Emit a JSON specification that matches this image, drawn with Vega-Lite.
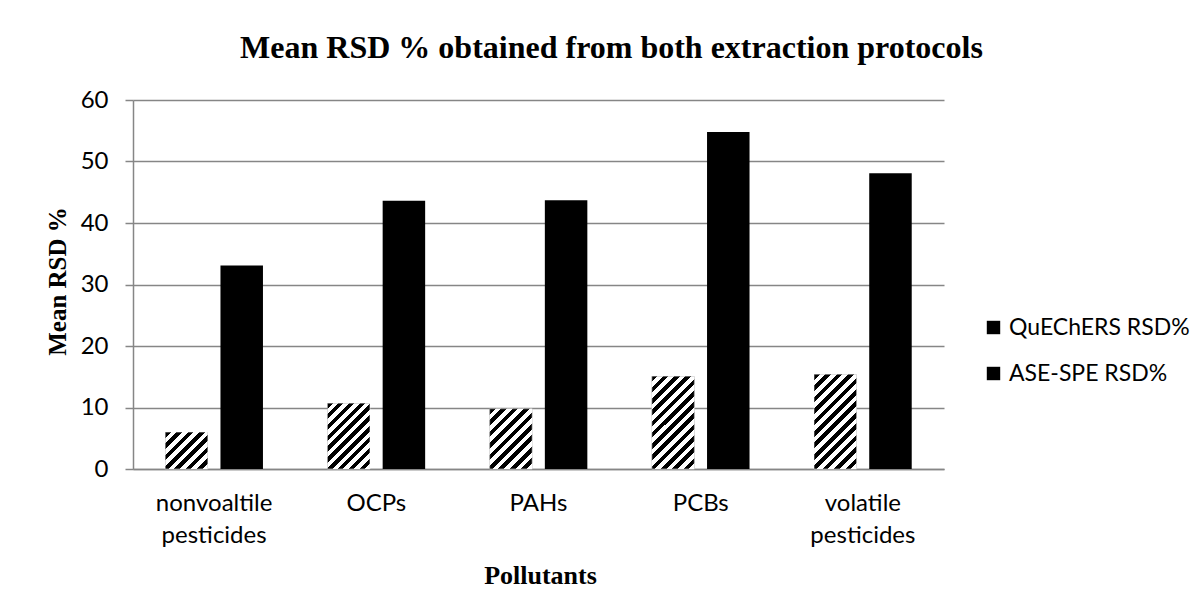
{
  "$schema": "https://vega.github.io/schema/vega-lite/v6.json",
  "autosize": {"type": "none"},
  "padding": {"left": 133, "top": 100, "right": 258, "bottom": 146},
  "width": 811,
  "height": 369,
  "background": "#ffffff",
  "title": {
    "text": "Mean RSD % obtained from both extraction protocols",
    "font": "Liberation Serif",
    "fontSize": 32,
    "fontWeight": "bold",
    "color": "#000000",
    "anchor": "middle",
    "frame": "group",
    "dx": 73,
    "offset": -2,
    "baseline": "alphabetic"
  },
  "data": {
    "values": [
      {"Pollutants": "nonvoaltile pesticides", "Series": "QuEChERS RSD%", "value": 6.0},
      {"Pollutants": "nonvoaltile pesticides", "Series": "ASE-SPE RSD%", "value": 33.1},
      {"Pollutants": "OCPs", "Series": "QuEChERS RSD%", "value": 10.7},
      {"Pollutants": "OCPs", "Series": "ASE-SPE RSD%", "value": 43.6},
      {"Pollutants": "PAHs", "Series": "QuEChERS RSD%", "value": 9.8},
      {"Pollutants": "PAHs", "Series": "ASE-SPE RSD%", "value": 43.7},
      {"Pollutants": "PCBs", "Series": "QuEChERS RSD%", "value": 15.1},
      {"Pollutants": "PCBs", "Series": "ASE-SPE RSD%", "value": 54.8},
      {"Pollutants": "volatile pesticides", "Series": "QuEChERS RSD%", "value": 15.4},
      {"Pollutants": "volatile pesticides", "Series": "ASE-SPE RSD%", "value": 48.1}
    ]
  },
  "encoding": {
    "x": {
      "field": "Pollutants",
      "type": "nominal",
      "sort": ["nonvoaltile pesticides", "OCPs", "PAHs", "PCBs", "volatile pesticides"],
      "scale": {"paddingInner": 0.3977, "paddingOuter": 0.199},
      "axis": {
        "title": "Pollutants",
        "labelAngle": 0,
        "labelExpr": "split(datum.label, ' ')",
        "labelFont": "Lato",
        "labelFontSize": 24,
        "labelLineHeight": 32,
        "labelColor": "#000000",
        "labelPadding": 22,
        "labelBaseline": "top",
        "labelLimit": 300,
        "ticks": false,
        "tickSize": 0,
        "domainColor": "#868686",
        "domainWidth": 1.5,
        "grid": false,
        "titleFont": "Liberation Serif",
        "titleFontSize": 26,
        "titleFontWeight": "bold",
        "titleColor": "#000000",
        "titleX": 407,
        "titleY": 106,
        "titleAlign": "center",
        "titleBaseline": "middle"
      }
    },
    "xOffset": {
      "field": "Series",
      "type": "nominal",
      "sort": ["QuEChERS RSD%", "ASE-SPE RSD%"],
      "scale": {"domain": ["QuEChERS RSD%", "ASE-SPE RSD%"], "paddingInner": 0.23, "paddingOuter": 0}
    },
    "y": {
      "field": "value",
      "type": "quantitative",
      "scale": {"domain": [0, 60], "nice": false},
      "axis": {
        "title": "Mean RSD %",
        "values": [0, 10, 20, 30, 40, 50, 60],
        "grid": true,
        "gridColor": "#868686",
        "gridWidth": 1.5,
        "domainColor": "#868686",
        "domainWidth": 1.5,
        "tickColor": "#868686",
        "tickSize": 8,
        "tickWidth": 1.5,
        "labelFont": "Lato",
        "labelFontSize": 24,
        "labelColor": "#000000",
        "labelPadding": 17,
        "titleFont": "Liberation Serif",
        "titleFontSize": 25,
        "titleFontWeight": "bold",
        "titleColor": "#000000",
        "titleX": -76,
        "titleY": 181,
        "titleAngle": -90,
        "titleAlign": "center",
        "titleBaseline": "middle"
      }
    }
  },
  "layer": [
    {
      "mark": {"type": "bar"},
      "encoding": {
        "color": {
          "field": "Series",
          "type": "nominal",
          "scale": {"domain": ["QuEChERS RSD%", "ASE-SPE RSD%"], "range": ["#000000", "#000000"]},
          "legend": {
            "orient": "none",
            "legendX": 849,
            "legendY": 216,
            "padding": 0,
            "title": null,
            "symbolType": "square",
            "symbolSize": 180,
            "symbolStrokeWidth": 0,
            "labelFont": "Lato",
            "labelFontSize": 23,
            "labelColor": "#000000",
            "labelOffset": 4,
            "labelLimit": 300,
            "rowPadding": 22
          }
        }
      }
    },
    {
      "transform": [{"filter": "datum.Series === 'QuEChERS RSD%'"}],
      "mark": {"type": "bar", "stroke": "#ffffff", "strokeWidth": 0.5},
      "encoding": {
        "fill": {
          "condition": [
            {
              "test": "datum.Pollutants === 'nonvoaltile pesticides'",
              "value": {"gradient": "linear", "x1": 0, "y1": 0, "x2": 1.065, "y2": 0.925, "stops": [
                {"offset": 0, "color": "#000"}, {"offset": 0.0714, "color": "#000"}, {"offset": 0.0714, "color": "#fff"}, {"offset": 0.1429, "color": "#fff"},
                {"offset": 0.1429, "color": "#000"}, {"offset": 0.2143, "color": "#000"}, {"offset": 0.2143, "color": "#fff"}, {"offset": 0.2857, "color": "#fff"},
                {"offset": 0.2857, "color": "#000"}, {"offset": 0.3571, "color": "#000"}, {"offset": 0.3571, "color": "#fff"}, {"offset": 0.4286, "color": "#fff"},
                {"offset": 0.4286, "color": "#000"}, {"offset": 0.5, "color": "#000"}, {"offset": 0.5, "color": "#fff"}, {"offset": 0.5714, "color": "#fff"},
                {"offset": 0.5714, "color": "#000"}, {"offset": 0.6429, "color": "#000"}, {"offset": 0.6429, "color": "#fff"}, {"offset": 0.7143, "color": "#fff"},
                {"offset": 0.7143, "color": "#000"}, {"offset": 0.7857, "color": "#000"}, {"offset": 0.7857, "color": "#fff"}, {"offset": 0.8571, "color": "#fff"},
                {"offset": 0.8571, "color": "#000"}, {"offset": 0.9286, "color": "#000"}, {"offset": 0.9286, "color": "#fff"}, {"offset": 1, "color": "#fff"}
              ]}
            },
            {
              "test": "datum.Pollutants === 'OCPs'",
              "value": {"gradient": "linear", "x1": 0, "y1": 0, "x2": 0.75, "y2": 1.161, "stops": [
                {"offset": 0, "color": "#000"}, {"offset": 0.05, "color": "#000"}, {"offset": 0.05, "color": "#fff"}, {"offset": 0.1, "color": "#fff"},
                {"offset": 0.1, "color": "#000"}, {"offset": 0.15, "color": "#000"}, {"offset": 0.15, "color": "#fff"}, {"offset": 0.2, "color": "#fff"},
                {"offset": 0.2, "color": "#000"}, {"offset": 0.25, "color": "#000"}, {"offset": 0.25, "color": "#fff"}, {"offset": 0.3, "color": "#fff"},
                {"offset": 0.3, "color": "#000"}, {"offset": 0.35, "color": "#000"}, {"offset": 0.35, "color": "#fff"}, {"offset": 0.4, "color": "#fff"},
                {"offset": 0.4, "color": "#000"}, {"offset": 0.45, "color": "#000"}, {"offset": 0.45, "color": "#fff"}, {"offset": 0.5, "color": "#fff"},
                {"offset": 0.5, "color": "#000"}, {"offset": 0.55, "color": "#000"}, {"offset": 0.55, "color": "#fff"}, {"offset": 0.6, "color": "#fff"},
                {"offset": 0.6, "color": "#000"}, {"offset": 0.65, "color": "#000"}, {"offset": 0.65, "color": "#fff"}, {"offset": 0.7, "color": "#fff"},
                {"offset": 0.7, "color": "#000"}, {"offset": 0.75, "color": "#000"}, {"offset": 0.75, "color": "#fff"}, {"offset": 0.8, "color": "#fff"},
                {"offset": 0.8, "color": "#000"}, {"offset": 0.85, "color": "#000"}, {"offset": 0.85, "color": "#fff"}, {"offset": 0.9, "color": "#fff"},
                {"offset": 0.9, "color": "#000"}, {"offset": 0.95, "color": "#000"}, {"offset": 0.95, "color": "#fff"}, {"offset": 1, "color": "#fff"}
              ]}
            },
            {
              "test": "datum.Pollutants === 'PAHs'",
              "value": {"gradient": "linear", "x1": 0, "y1": 0, "x2": 0.803, "y2": 1.139, "stops": [
                {"offset": 0, "color": "#000"}, {"offset": 0.0556, "color": "#000"}, {"offset": 0.0556, "color": "#fff"}, {"offset": 0.1111, "color": "#fff"},
                {"offset": 0.1111, "color": "#000"}, {"offset": 0.1667, "color": "#000"}, {"offset": 0.1667, "color": "#fff"}, {"offset": 0.2222, "color": "#fff"},
                {"offset": 0.2222, "color": "#000"}, {"offset": 0.2778, "color": "#000"}, {"offset": 0.2778, "color": "#fff"}, {"offset": 0.3333, "color": "#fff"},
                {"offset": 0.3333, "color": "#000"}, {"offset": 0.3889, "color": "#000"}, {"offset": 0.3889, "color": "#fff"}, {"offset": 0.4444, "color": "#fff"},
                {"offset": 0.4444, "color": "#000"}, {"offset": 0.5, "color": "#000"}, {"offset": 0.5, "color": "#fff"}, {"offset": 0.5556, "color": "#fff"},
                {"offset": 0.5556, "color": "#000"}, {"offset": 0.6111, "color": "#000"}, {"offset": 0.6111, "color": "#fff"}, {"offset": 0.6667, "color": "#fff"},
                {"offset": 0.6667, "color": "#000"}, {"offset": 0.7222, "color": "#000"}, {"offset": 0.7222, "color": "#fff"}, {"offset": 0.7778, "color": "#fff"},
                {"offset": 0.7778, "color": "#000"}, {"offset": 0.8333, "color": "#000"}, {"offset": 0.8333, "color": "#fff"}, {"offset": 0.8889, "color": "#fff"},
                {"offset": 0.8889, "color": "#000"}, {"offset": 0.9444, "color": "#000"}, {"offset": 0.9444, "color": "#fff"}, {"offset": 1, "color": "#fff"}
              ]}
            },
            {
              "test": "datum.Pollutants === 'PCBs'",
              "value": {"gradient": "linear", "x1": 0, "y1": 0, "x2": 0.551, "y2": 1.205, "stops": [
                {"offset": 0, "color": "#000"}, {"offset": 0.0417, "color": "#000"}, {"offset": 0.0417, "color": "#fff"}, {"offset": 0.0833, "color": "#fff"},
                {"offset": 0.0833, "color": "#000"}, {"offset": 0.125, "color": "#000"}, {"offset": 0.125, "color": "#fff"}, {"offset": 0.1667, "color": "#fff"},
                {"offset": 0.1667, "color": "#000"}, {"offset": 0.2083, "color": "#000"}, {"offset": 0.2083, "color": "#fff"}, {"offset": 0.25, "color": "#fff"},
                {"offset": 0.25, "color": "#000"}, {"offset": 0.2917, "color": "#000"}, {"offset": 0.2917, "color": "#fff"}, {"offset": 0.3333, "color": "#fff"},
                {"offset": 0.3333, "color": "#000"}, {"offset": 0.375, "color": "#000"}, {"offset": 0.375, "color": "#fff"}, {"offset": 0.4167, "color": "#fff"},
                {"offset": 0.4167, "color": "#000"}, {"offset": 0.4583, "color": "#000"}, {"offset": 0.4583, "color": "#fff"}, {"offset": 0.5, "color": "#fff"},
                {"offset": 0.5, "color": "#000"}, {"offset": 0.5417, "color": "#000"}, {"offset": 0.5417, "color": "#fff"}, {"offset": 0.5833, "color": "#fff"},
                {"offset": 0.5833, "color": "#000"}, {"offset": 0.625, "color": "#000"}, {"offset": 0.625, "color": "#fff"}, {"offset": 0.6667, "color": "#fff"},
                {"offset": 0.6667, "color": "#000"}, {"offset": 0.7083, "color": "#000"}, {"offset": 0.7083, "color": "#fff"}, {"offset": 0.75, "color": "#fff"},
                {"offset": 0.75, "color": "#000"}, {"offset": 0.7917, "color": "#000"}, {"offset": 0.7917, "color": "#fff"}, {"offset": 0.8333, "color": "#fff"},
                {"offset": 0.8333, "color": "#000"}, {"offset": 0.875, "color": "#000"}, {"offset": 0.875, "color": "#fff"}, {"offset": 0.9167, "color": "#fff"},
                {"offset": 0.9167, "color": "#000"}, {"offset": 0.9583, "color": "#000"}, {"offset": 0.9583, "color": "#fff"}, {"offset": 1, "color": "#fff"}
              ]}
            },
            {
              "test": "datum.Pollutants === 'volatile pesticides'",
              "value": {"gradient": "linear", "x1": 0, "y1": 0, "x2": 0.541, "y2": 1.206, "stops": [
                {"offset": 0, "color": "#000"}, {"offset": 0.0417, "color": "#000"}, {"offset": 0.0417, "color": "#fff"}, {"offset": 0.0833, "color": "#fff"},
                {"offset": 0.0833, "color": "#000"}, {"offset": 0.125, "color": "#000"}, {"offset": 0.125, "color": "#fff"}, {"offset": 0.1667, "color": "#fff"},
                {"offset": 0.1667, "color": "#000"}, {"offset": 0.2083, "color": "#000"}, {"offset": 0.2083, "color": "#fff"}, {"offset": 0.25, "color": "#fff"},
                {"offset": 0.25, "color": "#000"}, {"offset": 0.2917, "color": "#000"}, {"offset": 0.2917, "color": "#fff"}, {"offset": 0.3333, "color": "#fff"},
                {"offset": 0.3333, "color": "#000"}, {"offset": 0.375, "color": "#000"}, {"offset": 0.375, "color": "#fff"}, {"offset": 0.4167, "color": "#fff"},
                {"offset": 0.4167, "color": "#000"}, {"offset": 0.4583, "color": "#000"}, {"offset": 0.4583, "color": "#fff"}, {"offset": 0.5, "color": "#fff"},
                {"offset": 0.5, "color": "#000"}, {"offset": 0.5417, "color": "#000"}, {"offset": 0.5417, "color": "#fff"}, {"offset": 0.5833, "color": "#fff"},
                {"offset": 0.5833, "color": "#000"}, {"offset": 0.625, "color": "#000"}, {"offset": 0.625, "color": "#fff"}, {"offset": 0.6667, "color": "#fff"},
                {"offset": 0.6667, "color": "#000"}, {"offset": 0.7083, "color": "#000"}, {"offset": 0.7083, "color": "#fff"}, {"offset": 0.75, "color": "#fff"},
                {"offset": 0.75, "color": "#000"}, {"offset": 0.7917, "color": "#000"}, {"offset": 0.7917, "color": "#fff"}, {"offset": 0.8333, "color": "#fff"},
                {"offset": 0.8333, "color": "#000"}, {"offset": 0.875, "color": "#000"}, {"offset": 0.875, "color": "#fff"}, {"offset": 0.9167, "color": "#fff"},
                {"offset": 0.9167, "color": "#000"}, {"offset": 0.9583, "color": "#000"}, {"offset": 0.9583, "color": "#fff"}, {"offset": 1, "color": "#fff"}
              ]}
            }
          ],
          "value": "#ffffff"
        }
      }
    }
  ],
  "config": {
    "view": {"stroke": null},
    "axis": {"labelFont": "Lato"}
  }
}
